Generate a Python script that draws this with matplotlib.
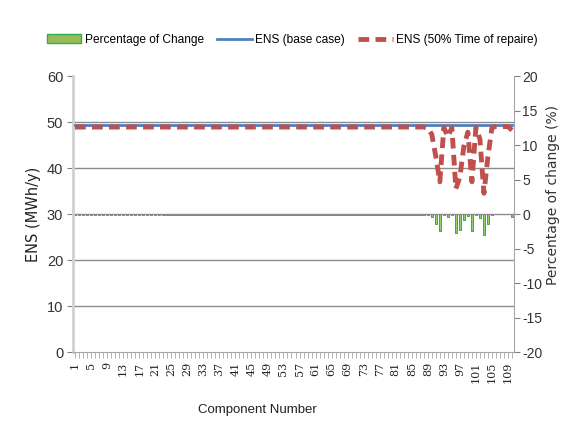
import matplotlib
matplotlib.use("Agg")
import matplotlib.pyplot as plt
from matplotlib.patches import Patch
from matplotlib.lines import Line2D

plt.rcParams['font.family'] = ['Liberation Sans', 'DejaVu Sans']

components = list(range(1, 111))

ens_base = [49.3] * 110

ens_50 = [
    48.9, 48.9, 48.9, 48.9, 48.9, 48.9, 48.9, 48.9, 48.9, 48.9,
    48.9, 48.9, 48.9, 48.9, 48.9, 48.9, 48.9, 48.9, 48.9, 48.9,
    48.9, 48.9, 48.9, 48.9, 48.9, 48.9, 48.9, 48.9, 48.9, 48.9,
    48.9, 48.9, 48.9, 48.9, 48.9, 48.9, 48.9, 48.9, 48.9, 48.9,
    48.9, 48.9, 48.9, 48.9, 48.9, 48.9, 48.9, 48.9, 48.9, 48.9,
    48.9, 48.9, 48.9, 48.9, 48.9, 48.9, 48.9, 48.9, 48.9, 48.9,
    48.9, 48.9, 48.9, 48.9, 48.9, 48.9, 48.9, 48.9, 48.9, 48.9,
    48.9, 48.9, 48.9, 48.9, 48.9, 48.9, 48.9, 48.9, 48.9, 48.9,
    48.9, 48.9, 48.9, 48.9, 48.9, 48.9, 48.9, 48.9, 48.7, 47.3,
    42.5, 37.0, 48.8, 46.8, 48.8, 35.5, 38.0, 44.8, 47.8, 37.0,
    48.8, 46.3, 34.5, 42.5, 48.8, 49.0, 49.0, 49.0, 49.0, 48.2,
]

pct_change = [
    -0.15, -0.15, -0.15, -0.15, -0.15, -0.15, -0.15, -0.15, -0.15, -0.15,
    -0.15, -0.15, -0.15, -0.15, -0.15, -0.15, -0.15, -0.15, -0.15, -0.15,
    -0.15, -0.15, -0.15, -0.15, -0.15, -0.15, -0.15, -0.15, -0.15, -0.15,
    -0.15, -0.15, -0.15, -0.15, -0.15, -0.15, -0.15, -0.15, -0.15, -0.15,
    -0.15, -0.15, -0.15, -0.15, -0.15, -0.15, -0.15, -0.15, -0.15, -0.15,
    -0.15, -0.15, -0.15, -0.15, -0.15, -0.15, -0.15, -0.15, -0.15, -0.15,
    -0.15, -0.15, -0.15, -0.15, -0.15, -0.15, -0.15, -0.15, -0.15, -0.15,
    -0.15, -0.15, -0.15, -0.15, -0.15, -0.15, -0.15, -0.15, -0.15, -0.15,
    -0.15, -0.15, -0.15, -0.15, -0.15, -0.15, -0.15, -0.15, -0.2, -0.4,
    -1.4, -2.5, -0.1, -0.5, -0.1, -2.8, -2.3, -0.9, -0.3, -2.5,
    -0.1, -0.6, -3.0, -1.4, -0.1, -0.05, -0.05, -0.05, -0.05, -0.4,
]

left_ticks = [0, 10, 20, 30, 40, 50, 60]
right_ticks = [-20, -15, -10, -5, 0, 5, 10, 15, 20]
xtick_labels = [str(c) if (c - 1) % 4 == 0 else '' for c in components]

fig = plt.figure(figsize=(5.62, 4.24), dpi=100)
ax = fig.add_axes([73 / 562, 1 - 352 / 424, (514 - 73) / 562, (352 - 76) / 424])
ax2 = ax.twinx()
ax.set_zorder(ax2.get_zorder() + 1)
ax.patch.set_visible(False)

pos = list(range(len(components)))

# bars (right axis)
ax2.bar(pos, pct_change, width=0.65, color='#8fd06a', edgecolor='#2db050', linewidth=0.7)
ax2.set_ylim(-20, 20)
ax2.set_yticks(right_ticks)
ax2.set_yticklabels([str(t) for t in right_ticks])

# lines (left axis)
ax.plot(pos, ens_base, color='#4f81bd', linewidth=2.0, zorder=3)
ax.plot(pos, ens_50, color='#c0504d', linewidth=3.5, linestyle=(0, (2.2, 1.3)), zorder=4)
ax.set_ylim(0, 60)
ax.set_yticks(left_ticks)
ax.set_xlim(-0.5, len(components) - 0.5)
ax.set_xticks(pos)
ax.set_xticklabels(xtick_labels, rotation=90, fontsize=8, family=['DejaVu Serif'])

for v in [10, 20, 30, 40, 50]:
    ax.axhline(v, color='#8c8c8c', linewidth=1.0, zorder=1)

for a in (ax, ax2):
    a.spines['top'].set_visible(False)
ax.spines['left'].set_color('#d0d0d0')
ax.spines['left'].set_linewidth(2.0)
ax.spines['right'].set_visible(False)
ax.spines['bottom'].set_color('#a6a6a6')
ax2.spines['left'].set_visible(False)
ax2.spines['bottom'].set_visible(False)
ax2.spines['right'].set_color('#a6a6a6')

ax.tick_params(axis='y', colors='#808080', labelcolor='#333333', labelsize=10.5, length=4, width=0.8, pad=3)
ax.tick_params(axis='x', colors='#a6a6a6', labelcolor='#222222', length=4, width=0.6, pad=3)
ax2.tick_params(axis='y', colors='#808080', labelcolor='#333333', labelsize=10, length=4, width=0.8, pad=2)

ax.set_ylabel('ENS (MWh/y)', fontsize=10.5, family=['DejaVu Sans'], color='#222222')
ax.yaxis.set_label_coords(-0.073, 0.5)
ax2.set_ylabel('Percentage of change (%)', fontsize=10, family=['DejaVu Sans'], color='#333333')
ax2.yaxis.set_label_coords(1.072, 0.57)
ax.set_xlabel('Component Number', fontsize=9.5, color='#222222')
ax.xaxis.set_label_coords((257 - 73) / 441, -0.19)

handles = [
    Patch(facecolor='#9bbb59', edgecolor='#2db050', linewidth=1.0),
    Line2D([0], [0], color='#4f81bd', linewidth=2.0),
    Line2D([0], [0], color='#c0504d', linewidth=3.5, linestyle=(0, (2.2, 1.3))),
]
labels = ['Percentage of Change', 'ENS (base case)', 'ENS (50% Time of repaire)']
fig.legend(handles, labels, loc='center', bbox_to_anchor=(0.52, 0.906), ncol=3,
           frameon=False, fontsize=8.6, handlelength=2.9, columnspacing=1.1, handletextpad=0.3)

fig.savefig('out.png', dpi=100)
